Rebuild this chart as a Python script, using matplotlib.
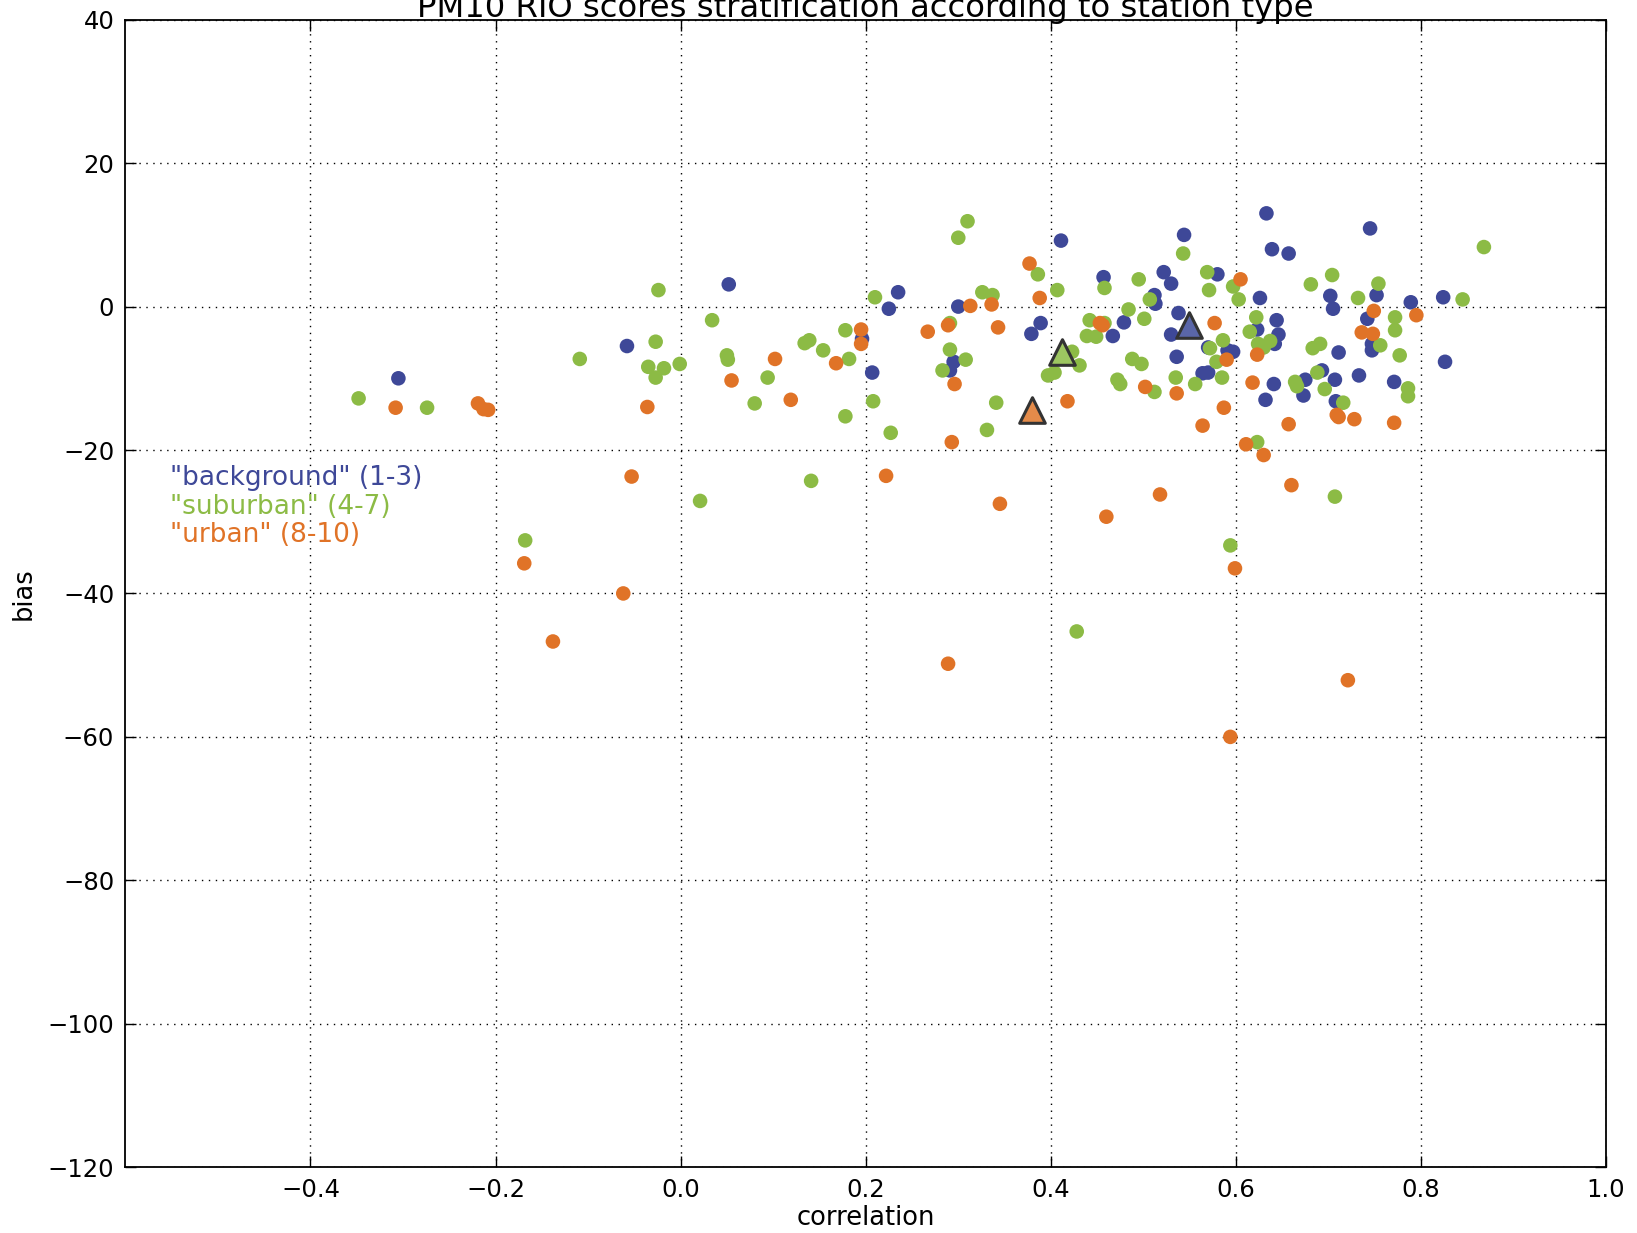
import matplotlib
matplotlib.use("Agg")
import matplotlib.pyplot as plt

# ---- data -------------------------------------------------------------
bg_corr = [-0.305, -0.058, 0.052, 0.207, 0.196, 0.225, 0.235, 0.291, 0.295, 0.300,
           0.379, 0.389, 0.411, 0.457, 0.467, 0.479, 0.512, 0.513, 0.522, 0.530,
           0.530, 0.538, 0.536, 0.544, 0.564, 0.570, 0.570, 0.580, 0.591, 0.597,
           0.623, 0.626, 0.633, 0.632, 0.639, 0.641, 0.642, 0.646, 0.644, 0.657,
           0.673, 0.675, 0.693, 0.702, 0.705, 0.707, 0.708, 0.711, 0.733, 0.742,
           0.745, 0.747, 0.747, 0.752, 0.771, 0.789, 0.824, 0.826]
bg_bias = [-10.0, -5.5, 3.1, -9.2, -4.5, -0.3, 2.0, -8.9, -7.7, 0.0,
           -3.8, -2.3, 9.2, 4.1, -4.1, -2.2, 1.6, 0.4, 4.8, 3.2,
           -3.9, -0.9, -7.0, 10.0, -9.3, -9.2, -5.7, 4.5, -6.1, -6.3,
           -3.2, 1.2, 13.0, -13.0, 8.0, -10.8, -5.2, -3.9, -1.9, 7.4,
           -12.4, -10.2, -8.9, 1.5, -0.3, -10.2, -13.2, -6.4, -9.6, -1.7,
           10.9, -6.1, -5.2, 1.6, -10.5, 0.6, 1.3, -7.7]

sub_corr = [-0.348, -0.274, -0.168, -0.109, -0.024, -0.027, -0.035, -0.027, -0.018, -0.001,
            0.021, 0.034, 0.050, 0.051, 0.080, 0.094, 0.134, 0.139, 0.141, 0.154,
            0.178, 0.178, 0.182, 0.210, 0.208, 0.227, 0.283, 0.291, 0.291, 0.300,
            0.310, 0.308, 0.326, 0.331, 0.337, 0.341, 0.386, 0.397, 0.404, 0.407,
            0.423, 0.428, 0.431, 0.439, 0.442, 0.449, 0.458, 0.458, 0.472, 0.475,
            0.484, 0.488, 0.495, 0.498, 0.501, 0.507, 0.512, 0.535, 0.543, 0.556,
            0.569, 0.571, 0.572, 0.579, 0.585, 0.586, 0.594, 0.597, 0.603, 0.615,
            0.622, 0.624, 0.623, 0.630, 0.637, 0.664, 0.666, 0.681, 0.683, 0.691,
            0.688, 0.696, 0.704, 0.707, 0.716, 0.732, 0.754, 0.756, 0.772, 0.772,
            0.777, 0.786, 0.786, 0.845, 0.868]
sub_bias = [-12.8, -14.1, -32.6, -7.3, 2.3, -4.9, -8.4, -9.9, -8.6, -8.0,
            -27.1, -1.9, -6.8, -7.4, -13.5, -9.9, -5.1, -4.7, -24.3, -6.1,
            -3.3, -15.3, -7.3, 1.3, -13.2, -17.6, -8.9, -6.0, -2.3, 9.6,
            11.9, -7.4, 2.0, -17.2, 1.6, -13.4, 4.5, -9.6, -9.2, 2.3,
            -6.3, -45.3, -8.2, -4.1, -1.9, -4.2, 2.6, -2.3, -10.2, -10.8,
            -0.4, -7.3, 3.8, -8.0, -1.7, 1.0, -11.9, -9.9, 7.4, -10.8,
            4.8, 2.3, -5.8, -7.7, -9.9, -4.7, -33.3, 2.8, 1.0, -3.5,
            -1.5, -5.2, -18.9, -5.7, -4.8, -10.5, -11.1, 3.1, -5.8, -5.2,
            -9.2, -11.5, 4.4, -26.5, -13.4, 1.2, 3.2, -5.4, -1.5, -3.3,
            -6.8, -11.4, -12.5, 1.0, 8.3]

urb_corr = [-0.308, -0.219, -0.213, -0.208, -0.169, -0.138, -0.062, -0.053, -0.036, 0.055,
            0.102, 0.119, 0.168, 0.195, 0.195, 0.222, 0.267, 0.289, 0.289, 0.293,
            0.296, 0.313, 0.336, 0.343, 0.345, 0.377, 0.388, 0.418, 0.453, 0.456,
            0.460, 0.502, 0.518, 0.536, 0.564, 0.577, 0.587, 0.590, 0.594, 0.599,
            0.605, 0.611, 0.618, 0.623, 0.630, 0.657, 0.660, 0.709, 0.711, 0.721,
            0.728, 0.736, 0.748, 0.749, 0.771, 0.795]
urb_bias = [-14.1, -13.5, -14.3, -14.4, -35.8, -46.7, -40.0, -23.7, -14.0, -10.3,
            -7.3, -13.0, -7.9, -3.2, -5.2, -23.6, -3.5, -2.6, -49.8, -18.9,
            -10.8, 0.1, 0.3, -2.9, -27.5, 6.0, 1.2, -13.2, -2.3, -2.6,
            -29.3, -11.2, -26.2, -12.1, -16.6, -2.3, -14.1, -7.4, -60.0, -36.5,
            3.8, -19.2, -10.6, -6.7, -20.7, -16.4, -24.9, -15.1, -15.4, -52.1,
            -15.7, -3.6, -3.8, -0.6, -16.2, -1.2]

# group means (triangles)
mean_corr = [0.549, 0.412, 0.380]
mean_bias = [-2.5, -6.4, -14.4]

group_labels = ['"background" (1-3)', '"suburban" (4-7)', '"urban" (8-10)']
group_colors = ['#3e4898', '#8cbb45', '#e07327']
mean_colors = ['#5a66a8', '#9dc661', '#e48b4a']

xticks = [-0.4, -0.2, 0.0, 0.2, 0.4, 0.6, 0.8, 1.0]
yticks = [-120, -100, -80, -60, -40, -20, 0, 20, 40]

# ---- figure -----------------------------------------------------------
plt.rcParams['font.family'] = ['DejaVu Sans']
fig = plt.figure(figsize=(16.37, 12.33), dpi=100)
ax = fig.add_axes([0.0766, 0.0534, 0.9045, 0.9306])

series = [(bg_corr, bg_bias), (sub_corr, sub_bias), (urb_corr, urb_bias)]
for (xs, ys), c in zip(series, group_colors):
    ax.scatter(xs, ys, s=110, color=c, edgecolors='none', zorder=3)

for mx, my, c in zip(mean_corr, mean_bias, mean_colors):
    ax.scatter([mx], [my], s=340, marker='^', color=c,
               edgecolors='#333333', linewidths=2.2, zorder=4)

ax.set_xlim(-0.6, 1.0)
ax.set_ylim(-120, 40)
ax.set_xticks(xticks)
ax.set_yticks(yticks)
ax.set_xticklabels([f"{t:.1f}".replace('-', '\u2212') for t in xticks])
ax.set_yticklabels([f"{t}".replace('-', '\u2212') for t in yticks])
ax.tick_params(direction='in', length=8, width=1, labelsize=17.5, pad=8,
               top=True, right=True)
ax.grid(True, linestyle=(0, (1, 4)), color='black', linewidth=1.0)
ax.set_axisbelow(True)
for sp in ax.spines.values():
    sp.set_linewidth(1.3)

ax.set_xlabel('correlation', fontsize=18.5, labelpad=2)
ax.set_ylabel('bias', fontsize=18.5, labelpad=8)
ax.set_title('PM10 RIO scores stratification according to station type',
             fontsize=23.2, pad=2)

for i, (lab, c) in enumerate(zip(group_labels, group_colors)):
    ax.text(0.0303, 0.6005 - i * 0.0250, lab, color=c, fontsize=19,
            transform=ax.transAxes, va='center', ha='left')

fig.savefig('out.png', dpi=100)
